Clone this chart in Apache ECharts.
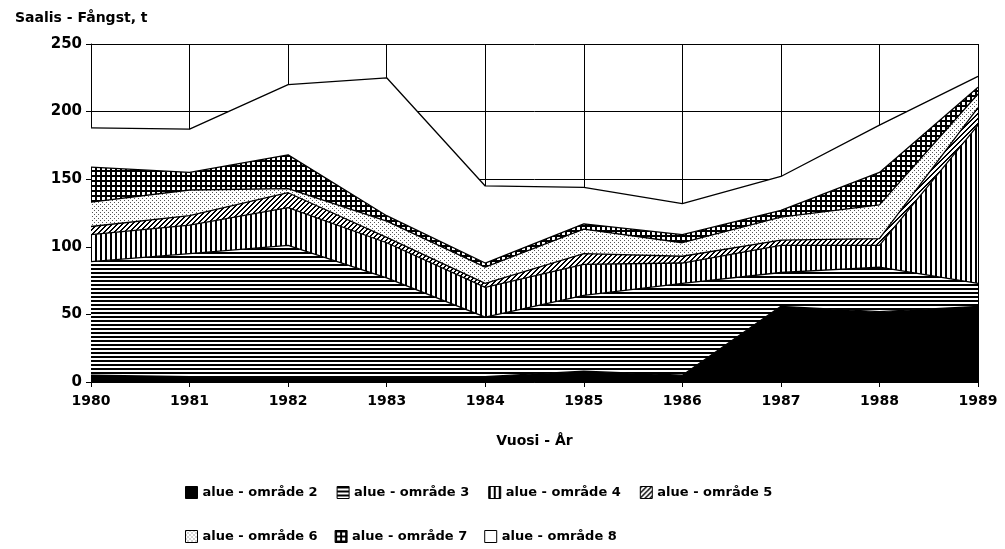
<!DOCTYPE html>
<html>
<head>
<meta charset="utf-8">
<script src="https://cdn.jsdelivr.net/npm/echarts@6/dist/echarts.min.js"></script>
<style>
  html, body { margin: 0; padding: 0; background: #fff; }
  #chart { width: 1005px; height: 549px; }
</style>
</head>
<body>
<div id="chart"></div>
<script>
// vuodet - år
const years = ['1980', '1981', '1982', '1983', '1984', '1985', '1986', '1987', '1988', '1989'];
// saalis alueittain, t
const area2 = [5, 4, 4, 4, 4, 8, 5, 56, 52, 56];
const area3 = [84, 91, 97, 73, 44, 56, 68, 25, 33, 17];
const area4 = [20, 21, 28, 26, 22, 23, 15, 20, 16, 117];
const area5 = [6, 7, 11, 4, 3, 8, 5, 4, 5, 13];
const area6 = [18, 19, 3, 12, 12, 18, 10, 17, 25, 10];
const area7 = [26, 13, 25, 4, 3, 4, 6, 5, 24, 5];
const area8 = [29, 32, 52, 102, 57, 27, 23, 25, 35, 8];
const names = ['alue - område 2', 'alue - område 3', 'alue - område 4', 'alue - område 5',
  'alue - område 6', 'alue - område 7', 'alue - område 8'];

const FONT = '"DejaVu Sans", sans-serif';

// mustavalkoiset rasterit canvasilla
const makePattern = (w, h, draw) => {
  const c = document.createElement('canvas');
  c.width = w;
  c.height = h;
  const ctx = c.getContext('2d');
  ctx.fillStyle = '#fff';
  ctx.fillRect(0, 0, w, h);
  ctx.fillStyle = '#000';
  draw(ctx, w, h);
  return {image: c, repeat: 'repeat'};
};

const patterns = [
  makePattern(4, 4, (ctx) => ctx.fillRect(0, 0, 4, 4)), // musta
  makePattern(4, 4, (ctx) => ctx.fillRect(0, 0, 4, 2)), // vaakaviivat
  makePattern(5, 5, (ctx) => ctx.fillRect(0, 0, 2, 5)), // pystyviivat
  makePattern(5, 5, (ctx) => { // vinoviivat
    for (let x = 0; x < 5; x++) {
      for (let y = 0; y < 5; y++) {
        if ((x + y) % 5 < 2) ctx.fillRect(x, y, 1, 1);
      }
    }
  }),
  makePattern(4, 4, (ctx) => { // pisteet
    ctx.fillStyle = '#555';
    ctx.fillRect(0, 0, 1, 1);
    ctx.fillRect(2, 2, 1, 1);
  }),
  makePattern(5, 5, (ctx) => { // ruudukko
    ctx.fillRect(0, 0, 5, 2);
    ctx.fillRect(0, 0, 2, 5);
  }),
  makePattern(4, 4, () => {}) // valkoinen
];

const values = [area2, area3, area4, area5, area6, area7, area8];

const series = values.map((data, i) => ({
  name: names[i],
  type: 'line',
  stack: 'total',
  symbol: 'none',
  lineStyle: {color: '#000', width: 1.3},
  itemStyle: {color: '#000'},
  areaStyle: {color: patterns[i], opacity: 1},
  emphasis: {disabled: true},
  data
}));

const legendItem = (i) => ({
  name: names[i],
  icon: 'rect',
  itemStyle: {color: patterns[i], borderColor: '#000', borderWidth: 1}
});

const legendCommon = {
  selectedMode: false,
  orient: 'horizontal',
  left: 180,
  itemWidth: 12,
  itemHeight: 12,
  itemGap: 19,
  textStyle: {fontFamily: FONT, fontWeight: 'bold', fontSize: 13, color: '#000'}
};

const chart = echarts.init(document.getElementById('chart'), null, {renderer: 'canvas'});

const option = {
  animation: false,
  backgroundColor: '#fff',
  title: {
    text: 'Saalis - Fångst, t',
    left: 10,
    top: 6,
    textStyle: {fontFamily: FONT, fontWeight: 'bold', fontSize: 14, color: '#000'}
  },
  legend: [
    Object.assign({}, legendCommon, {top: 481, data: [0, 1, 2, 3].map(legendItem)}),
    Object.assign({}, legendCommon, {top: 525, itemGap: 17, data: [4, 5, 6].map(legendItem)})
  ],
  grid: {left: 91, right: 27, top: 44, bottom: 167},
  xAxis: {
    type: 'category',
    boundaryGap: false,
    data: years,
    name: 'Vuosi - År',
    nameLocation: 'middle',
    nameGap: 52,
    nameTextStyle: {fontFamily: FONT, fontWeight: 'bold', fontSize: 14, color: '#000'},
    axisLine: {lineStyle: {color: '#000', width: 1}},
    axisTick: {show: true, length: 5, lineStyle: {color: '#000'}},
    axisLabel: {margin: 12, fontFamily: FONT, fontWeight: 'bold', fontSize: 14, color: '#000'},
    splitLine: {show: true, lineStyle: {color: '#000', width: 1}}
  },
  yAxis: {
    type: 'value',
    min: 0,
    max: 250,
    interval: 50,
    axisLine: {show: true, lineStyle: {color: '#000', width: 1}},
    axisTick: {show: true, length: 5, lineStyle: {color: '#000'}},
    axisLabel: {margin: 9, fontFamily: FONT, fontWeight: 'bold', fontSize: 15, color: '#000'},
    splitLine: {show: true, lineStyle: {color: '#000', width: 1}}
  },
  series
};

chart.setOption(option);
</script>
</body>
</html>
